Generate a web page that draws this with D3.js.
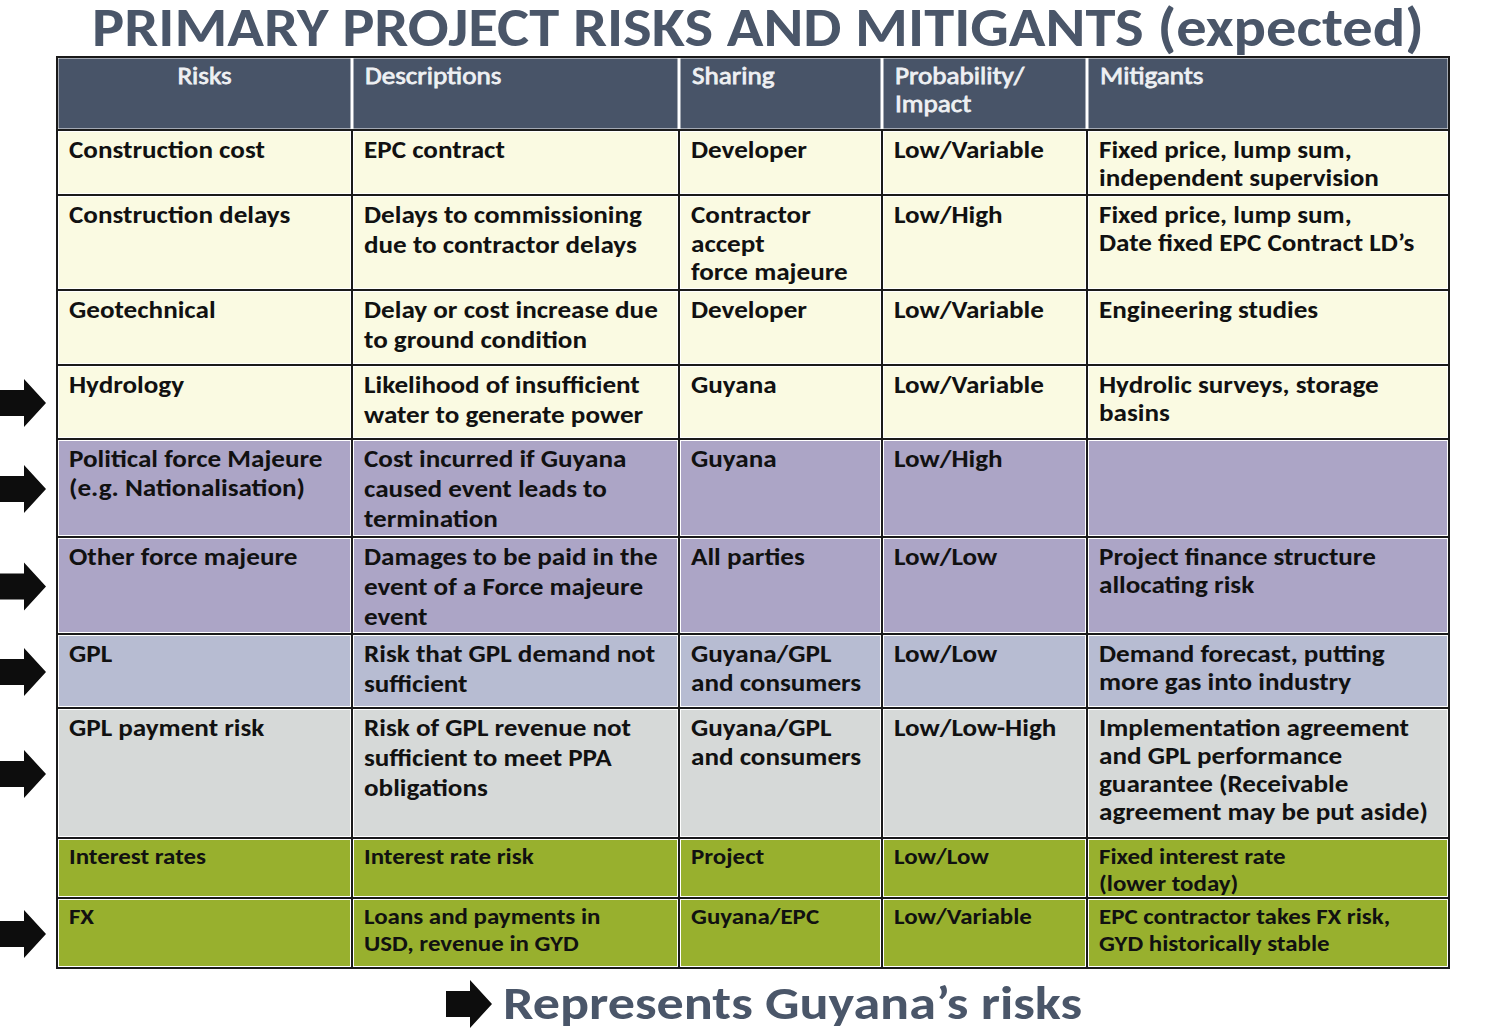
<!DOCTYPE html>
<html><head><meta charset="utf-8">
<script src="https://cdn.jsdelivr.net/npm/d3@7"></script>
<style>
html,body{margin:0;padding:0;background:#fff;}
svg{display:block;}
</style></head>
<body>
<svg id="chart" width="1500" height="1030"></svg>
<script>
// ---------- DATA ----------
const title = "PRIMARY PROJECT RISKS AND MITIGANTS (expected)";
const footnote = "Represents Guyana\u2019s risks";
const headers = [["Risks"], ["Descriptions"], ["Sharing"], ["Probability/", "Impact"], ["Mitigants"]];
const risks = [
  ["Construction cost"], ["Construction delays"], ["Geotechnical"], ["Hydrology"],
  ["Political force Majeure", "(e.g. Nationalisation)"], ["Other force majeure"], ["GPL"],
  ["GPL payment risk"], ["Interest rates"], ["FX"]
];
const descriptions = [
  ["EPC contract"],
  ["Delays to commissioning", "due to contractor delays"],
  ["Delay or cost increase due", "to ground condition"],
  ["Likelihood of insufficient", "water to generate power"],
  ["Cost incurred if Guyana", "caused event leads to", "termination"],
  ["Damages to be paid in the", "event of a Force majeure", "event"],
  ["Risk that GPL demand not", "sufficient"],
  ["Risk of GPL revenue not", "sufficient to meet PPA", "obligations"],
  ["Interest rate risk"],
  ["Loans and payments in", "USD, revenue in GYD"]
];
const sharing = [
  ["Developer"], ["Contractor", "accept", "force majeure"], ["Developer"], ["Guyana"], ["Guyana"],
  ["All parties"], ["Guyana/GPL", "and consumers"], ["Guyana/GPL", "and consumers"], ["Project"], ["Guyana/EPC"]
];
const probabilityImpact = [
  ["Low/Variable"], ["Low/High"], ["Low/Variable"], ["Low/Variable"], ["Low/High"],
  ["Low/Low"], ["Low/Low"], ["Low/Low-High"], ["Low/Low"], ["Low/Variable"]
];
const mitigants = [
  ["Fixed price, lump sum,", "independent supervision"],
  ["Fixed price, lump sum,", "Date fixed EPC Contract LD\u2019s"],
  ["Engineering studies"],
  ["Hydrolic surveys, storage", "basins"],
  [],
  ["Project finance structure", "allocating risk"],
  ["Demand forecast, putting", "more gas into industry"],
  ["Implementation agreement", "and GPL performance", "guarantee (Receivable", "agreement may be put aside)"],
  ["Fixed interest rate", "(lower today)"],
  ["EPC contractor takes FX risk,", "GYD historically stable"]
];
const rowGroup = ["technical", "technical", "technical", "technical", "force", "force", "demand", "payment", "financial", "financial"];
const guyanaRisk = [false, false, false, true, true, true, true, true, false, true];

// ---------- LAYOUT / STYLE ----------
const colEdges = [57, 352, 679, 882, 1087, 1449];
const tableTop = 57, headerH = 73;
const rowHeights = [65, 95, 75, 74, 98, 97, 74, 130, 60, 70];
const lineHeights = [29, 30, 28.5, 28, 28];
const FONT = "Carlito, Lato, 'Open Sans', sans-serif";
const groupColor = d3.scaleOrdinal()
  .domain(["technical", "force", "demand", "payment", "financial"])
  .range(["#fafae2", "#aca5c6", "#b7bcd2", "#d6d9d8", "#98b02e"]);
const headerColor = "#485468";
const titleColor = "#4a5669";
const BODY_FS = 25, SMALL_FS = 23, HEAD_FS = 25;

const svg = d3.select("#chart");
const columns = [risks, descriptions, sharing, probabilityImpact, mitigants];

// row y positions
const rowTops = [tableTop + headerH];
rowHeights.forEach((h, i) => rowTops.push(rowTops[i] + h));
const tableBottom = rowTops[rowTops.length - 1];

// title
svg.append("text").attr("x", 92).attr("y", 46)
  .attr("textLength", 1332).attr("lengthAdjust", "spacingAndGlyphs")
  .attr("font-family", FONT).attr("font-weight", 700).attr("font-size", 54)
  .attr("fill", titleColor).text(title);

// header cells
const hdr = svg.append("g");
headers.forEach((lines, c) => {
  hdr.append("rect").attr("x", colEdges[c] + 1.5).attr("y", tableTop + 1.5)
    .attr("width", colEdges[c + 1] - colEdges[c] - 3).attr("height", headerH - 3)
    .attr("fill", headerColor);
});

// body cells
const body = svg.append("g");
rowHeights.forEach((h, r) => {
  for (let c = 0; c < 5; c++) {
    body.append("rect").attr("x", colEdges[c] + 2).attr("y", rowTops[r] + 2)
      .attr("width", colEdges[c + 1] - colEdges[c] - 4).attr("height", h - 4)
      .attr("fill", groupColor(rowGroup[r]));
  }
});

// grid lines
const grid = svg.append("g").attr("stroke", "#1a1a1a").attr("stroke-width", 2).attr("fill", "none");
rowTops.forEach(y => grid.append("line").attr("x1", colEdges[0]).attr("x2", colEdges[5]).attr("y1", y).attr("y2", y));
colEdges.forEach(x => grid.append("line").attr("x1", x).attr("x2", x).attr("y1", rowTops[0]).attr("y2", tableBottom));
grid.append("rect").attr("x", colEdges[0]).attr("y", tableTop)
  .attr("width", colEdges[5] - colEdges[0]).attr("height", tableBottom - tableTop);

// calibrate horizontal scale to match the narrow presentation font
const probe = svg.append("text").attr("font-family", FONT).attr("font-weight", 700)
  .attr("font-size", BODY_FS).text("Implementation agreement");
const measured = probe.node().getComputedTextLength();
probe.remove();
const sx = Math.max(0.75, Math.min(1.25, 310 / measured));

// header text
headers.forEach((lines, c) => {
  lines.forEach((ln, i) => {
    const centered = c === 0;
    const x = centered ? (colEdges[0] + colEdges[1]) / 2 : colEdges[c] + 13;
    svg.append("text")
      .attr("transform", `translate(${x},${tableTop + 27 + i * 28}) scale(${sx},1)`)
      .attr("text-anchor", centered ? "middle" : "start")
      .attr("font-family", FONT).attr("font-weight", 400).attr("font-size", HEAD_FS)
      .attr("fill", "#eef0f3").attr("stroke", "#eef0f3").attr("stroke-width", 0.8)
      .text(ln);
  });
});

// body text
columns.forEach((col, c) => {
  col.forEach((lines, r) => {
    const small = rowGroup[r] === "financial";
    const fs = small ? SMALL_FS : BODY_FS;
    const lh = small ? 27 : lineHeights[c];
    const base = rowTops[r] + (small ? 26 : 28);
    lines.forEach((ln, i) => {
      svg.append("text")
        .attr("transform", `translate(${colEdges[c] + 12},${base + i * lh}) scale(${sx},1)`)
        .attr("font-family", FONT).attr("font-weight", 700).attr("font-size", fs)
        .attr("fill", "#111").text(ln);
    });
  });
});

// arrows
function arrowPath(x, cy) {
  return `M${x},${cy - 13} L${x + 24},${cy - 13} L${x + 24},${cy - 24} L${x + 46},${cy} ` +
         `L${x + 24},${cy + 24} L${x + 24},${cy + 13} L${x},${cy + 13} Z`;
}
guyanaRisk.forEach((g, r) => {
  if (!g) return;
  const cy = rowTops[r] + rowHeights[r] / 2 + 1;
  svg.append("path").attr("d", arrowPath(0, cy)).attr("fill", "#0d0d0d");
});

// footnote
svg.append("path").attr("d", arrowPath(446, 1004)).attr("fill", "#0d0d0d");
svg.append("text").attr("x", 503).attr("y", 1019)
  .attr("textLength", 579).attr("lengthAdjust", "spacingAndGlyphs")
  .attr("font-family", FONT).attr("font-weight", 700).attr("font-size", 46)
  .attr("fill", titleColor).text(footnote);
</script>
</body></html>
